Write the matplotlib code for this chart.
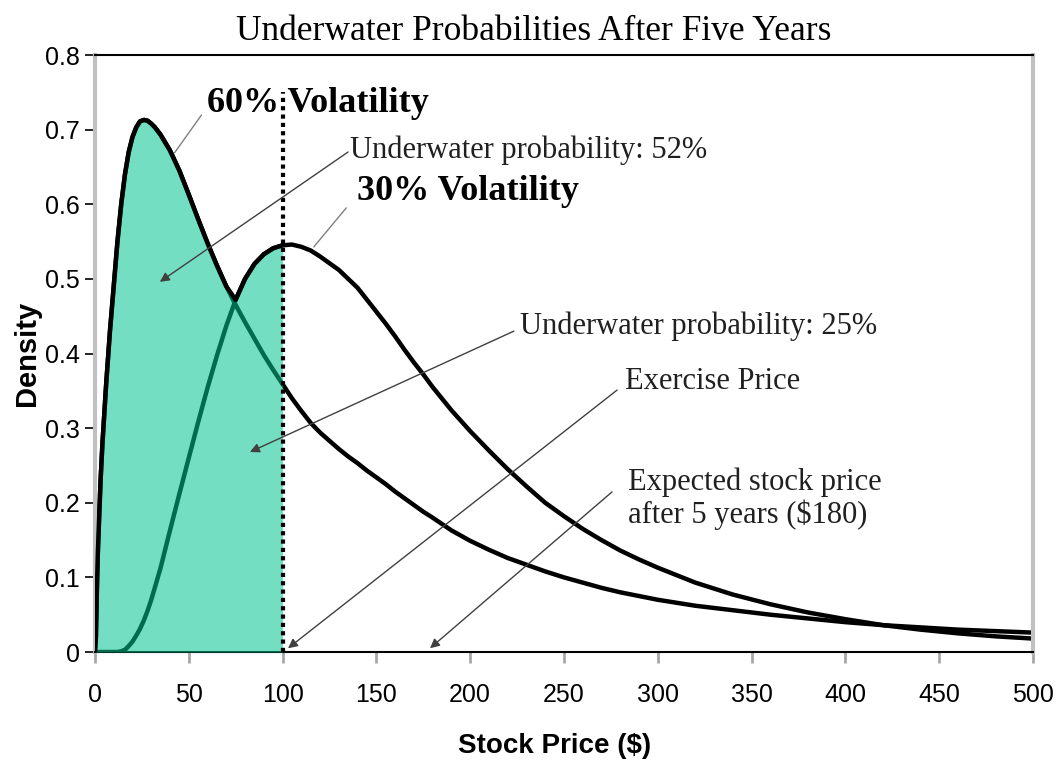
import matplotlib
matplotlib.use("Agg")
import matplotlib.pyplot as plt
import numpy as np

# stock price grid ($) and densities
price = [0, 0.5, 1, 1.5, 2, 3, 4, 5, 6, 7, 8, 9, 10,
         12, 14, 16, 18, 20, 22, 24, 26, 28, 30, 32, 35,
         40, 45, 50, 55, 60, 65, 70, 75, 80, 85, 90, 95, 100, 105, 110, 115, 120,
         125, 130, 135, 140, 145, 150, 155, 160, 165, 170, 175, 180,
         190, 200, 210, 220, 230, 240, 250, 260, 270, 280, 290, 300,
         320, 340, 360, 380, 400, 420, 440, 460, 480, 500]
vol60 = [0, 0.02, 0.08, 0.13, 0.165, 0.23, 0.28, 0.32, 0.36, 0.395, 0.43, 0.46, 0.49,
         0.55, 0.60, 0.64, 0.67, 0.69, 0.703, 0.711, 0.713, 0.712, 0.708, 0.703, 0.693,
         0.672, 0.645, 0.613, 0.58, 0.548, 0.518, 0.49, 0.465, 0.442, 0.42, 0.398, 0.378,
         0.359, 0.34, 0.323, 0.307, 0.294, 0.283, 0.272, 0.262, 0.253, 0.243, 0.234,
         0.225, 0.215, 0.206, 0.197, 0.188, 0.18,
         0.163, 0.149, 0.137, 0.126, 0.117, 0.108, 0.100, 0.093, 0.086, 0.080, 0.075, 0.070,
         0.062, 0.056, 0.050, 0.045, 0.040, 0.036, 0.033, 0.030, 0.028, 0.026]
vol30 = [0, 0, 0, 0, 0, 0, 0, 0, 0, 0, 0, 0, 0,
         0, 0.001, 0.003, 0.008, 0.014, 0.022, 0.031, 0.042, 0.055, 0.07, 0.087, 0.113,
         0.163, 0.212, 0.26, 0.308, 0.354, 0.397, 0.437, 0.472, 0.5, 0.52, 0.533, 0.541,
         0.545, 0.546, 0.543, 0.538, 0.53, 0.521, 0.512, 0.5, 0.488, 0.472, 0.456,
         0.44, 0.423, 0.405, 0.388, 0.372, 0.355,
         0.324, 0.296, 0.27, 0.245, 0.222, 0.2, 0.182, 0.165, 0.15, 0.136, 0.124, 0.113,
         0.093, 0.077, 0.064, 0.053, 0.044, 0.036, 0.030, 0.025, 0.021, 0.018]
exercise_price = 100

serif = "Liberation Serif"
sans = "Liberation Sans"

x = np.array(price)
y60 = np.array(vol60)
y30 = np.array(vol30)

fig = plt.figure(figsize=(10.61, 7.65), dpi=100)
ax = fig.add_axes([0.0895, 0.1477, 0.8841, 0.7804])

ax.plot(x, y60, color="black", lw=3.2, zorder=2, solid_joinstyle="round")
ax.plot(x, y30, color="black", lw=3.2, zorder=2, solid_joinstyle="round")

# shaded underwater region, laid over the lines so they show through dark
m = x <= exercise_price
top = np.maximum(y60, y30)
ax.fill_between(x[m], 0, top[m], color="#00C48F", alpha=0.55, lw=0, zorder=3)
ax.plot(x[m], top[m], color="black", lw=3.2, zorder=4, solid_joinstyle="round")

ax.plot([exercise_price, exercise_price], [0, 0.75], color="black", lw=3,
        linestyle=(0, (1, 1)), zorder=5)

ax.set_xlim(0, 500)
ax.set_ylim(0, 0.8)
ax.set_xticks(range(0, 501, 50))
ax.set_yticks([0, 0.1, 0.2, 0.3, 0.4, 0.5, 0.6, 0.7, 0.8])
ax.set_yticklabels(["0", "0.1", "0.2", "0.3", "0.4", "0.5", "0.6", "0.7", "0.8"])
ax.tick_params(axis="both", labelsize=18)
ax.tick_params(axis="y", length=7, width=1.2, color="black", pad=4)
ax.tick_params(axis="x", length=8, width=2, color="#a8a8a8", pad=14)
for lab in ax.get_xticklabels() + ax.get_yticklabels():
    lab.set_family(sans)

ax.spines["top"].set_color("black")
ax.spines["top"].set_linewidth(1.5)
ax.spines["bottom"].set_color("black")
ax.spines["bottom"].set_linewidth(1.5)
ax.spines["left"].set_color("#c0c0c0")
ax.spines["left"].set_linewidth(3)
ax.spines["right"].set_color("#c0c0c0")
ax.spines["right"].set_linewidth(3)

ax.set_xlabel("Stock Price ($)", family=sans, fontsize=20, fontweight="bold")
ax.xaxis.set_label_coords(0.49, -0.135)
ax.set_ylabel("Density", family=sans, fontsize=21, fontweight="bold")
ax.yaxis.set_label_coords(-0.058, 0.5)
fig.text(0.503, 0.959, "Underwater Probabilities After Five Years", family=serif,
         fontsize=25.5, ha="center", va="center")

# labels and leader lines
ax.text(59.7, 0.735, "60% Volatility", family=serif, fontsize=26, fontweight="bold",
        va="center", ha="left", zorder=6)
ax.annotate("", xy=(41.6, 0.666), xytext=(57.6, 0.7225),
            arrowprops=dict(arrowstyle="-", color="#808080", lw=1))

ax.text(139.7, 0.617, "30% Volatility", family=serif, fontsize=26, fontweight="bold",
        va="center", ha="left", zorder=6)
ax.annotate("", xy=(115.7, 0.540), xytext=(134.9, 0.598),
            arrowprops=dict(arrowstyle="-", color="#808080", lw=1))

arrow = dict(arrowstyle="-|>", color="#404040", lw=1, mutation_scale=14,
             shrinkA=0, shrinkB=0)
notes = [
    ("Underwater probability: 52%", (135.9, 0.673), (134.9, 0.670), (34.6, 0.496)),
    ("Underwater probability: 25%", (226.5, 0.436), (223.3, 0.430), (82.6, 0.268)),
    ("Exercise Price", (282.5, 0.362), (278.3, 0.351), (102.9, 0.005)),
    ("Expected stock price\nafter 5 years ($180)", (284.1, 0.205), (275.6, 0.2145), (178.6, 0.005)),
]
for label, pos, start, end in notes:
    ax.text(pos[0], pos[1], label, family=serif, fontsize=22, va="center", ha="left",
            color="#202020", linespacing=1.1, zorder=6)
    ax.annotate("", xy=end, xytext=start, arrowprops=arrow, zorder=6)

fig.savefig("out.png", dpi=100)
